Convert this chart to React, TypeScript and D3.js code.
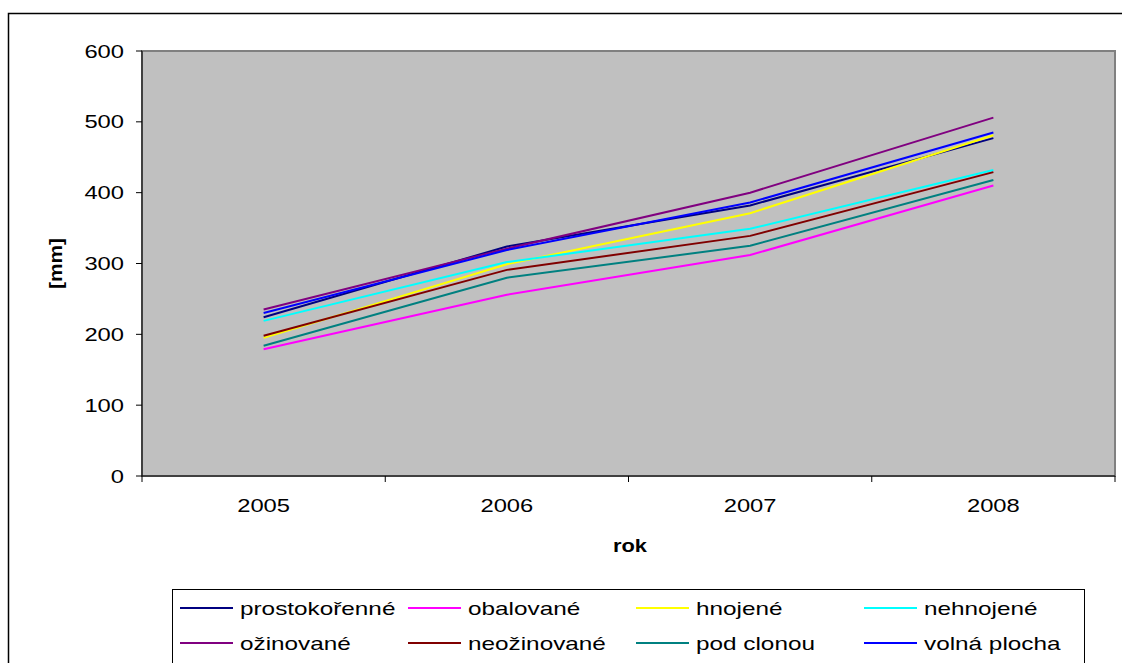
import React from "react";
import * as d3 from "d3";

const years = ["2005", "2006", "2007", "2008"];
const seriesNames = ["prostokořenné", "obalované", "hnojené", "nehnojené", "ožinované", "neožinované", "pod clonou", "volná plocha"];
const seriesColors = ["#000080", "#ff00ff", "#ffff00", "#00ffff", "#800080", "#800000", "#008080", "#0000ff"];
const prostokorenne = [224, 324, 382, 477];
const obalovane = [179, 256, 312, 410];
const hnojene = [195, 299, 371, 481];
const nehnojene = [219, 302, 349, 432];
const ozinovane = [235, 321, 400, 506];
const neozinovane = [198, 291, 339, 429];
const podClonou = [184, 280, 325, 418];
const volnaPlocha = [230, 319, 386, 485];
const seriesValues = [prostokorenne, obalovane, hnojene, nehnojene, ozinovane, neozinovane, podClonou, volnaPlocha];
const yTicks = [0, 100, 200, 300, 400, 500, 600];

const SX = 1.25;

function WideText(props: { x: number; y: number; anchor?: string; size?: number; bold?: boolean; children: React.ReactNode; sx?: number }) {
  const { x, y, anchor = "start", size = 19, bold = false, children, sx = SX } = props;
  return (
    <text transform={`translate(${x},${y}) scale(${sx},1)`} textAnchor={anchor} fontSize={size} fontWeight={bold ? "bold" : "normal"} fill="#000">
      {children}
    </text>
  );
}

export default function App() {
  const left = 142, right = 1115, top = 51, bottom = 476;
  const x = d3.scaleBand<string>().domain(years).range([left, right]);
  const y = d3.scaleLinear().domain([0, 600]).range([bottom, top]);
  const line = d3.line<number>()
    .x((_, i) => (x(years[i]) as number) + x.bandwidth() / 2)
    .y((d) => y(d));
  const font = "Liberation Sans, Arial, sans-serif";
  const boundaries = years.map((yr) => x(yr) as number).concat([right]);
  return (
    <svg width={1122} height={663} style={{ position: "absolute", left: 0, top: 0 }} fontFamily={font}>
      <rect x={0} y={0} width={1122} height={663} fill="#fff" />
      <rect x={8.5} y={13.5} width={1120} height={660} fill="#fff" stroke="#000" strokeWidth={1.5} />
      <rect x={left} y={top} width={right - left} height={bottom - top} fill="#c0c0c0" stroke="#808080" strokeWidth={2} />
      {yTicks.map((t) => (
        <g key={t}>
          <line x1={left - 6} x2={left} y1={y(t)} y2={y(t)} stroke="#000" />
          <WideText x={left - 18} y={y(t) + 6.5} anchor="end">{t}</WideText>
        </g>
      ))}
      {boundaries.map((b, i) => (
        <line key={i} x1={b} x2={b} y1={bottom} y2={bottom + 6} stroke="#000" />
      ))}
      {years.map((yr) => (
        <WideText key={yr} x={(x(yr) as number) + x.bandwidth() / 2} y={bottom + 36} anchor="middle">{yr}</WideText>
      ))}
      <line x1={left} x2={left} y1={top} y2={bottom} stroke="#000" />
      <line x1={left} x2={right} y1={bottom} y2={bottom} stroke="#000" />
      {seriesValues.map((vals, i) => (
        <path key={i} d={line(vals) as string} fill="none" stroke={seriesColors[i]} strokeWidth={2} />
      ))}
      <WideText x={630} y={552} anchor="middle" bold sx={1.15}>rok</WideText>
      <text transform={`translate(62,${(top + bottom) / 2}) rotate(-90) scale(1.1,1)`} textAnchor="middle" fontSize={19} fontWeight="bold">[mm]</text>
      <rect x={172.5} y={589.5} width={912} height={80} fill="#fff" stroke="#000" />
      {seriesNames.map((name, i) => {
        const col = i % 4, row = Math.floor(i / 4);
        const lx = 180 + col * 228;
        const ly = 608 + row * 35;
        return (
          <g key={name}>
            <line x1={lx} x2={lx + 53} y1={ly} y2={ly} stroke={seriesColors[i]} strokeWidth={2} />
            <WideText x={lx + 60} y={ly + 6.5} sx={1.28}>{name}</WideText>
          </g>
        );
      })}
    </svg>
  );
}
